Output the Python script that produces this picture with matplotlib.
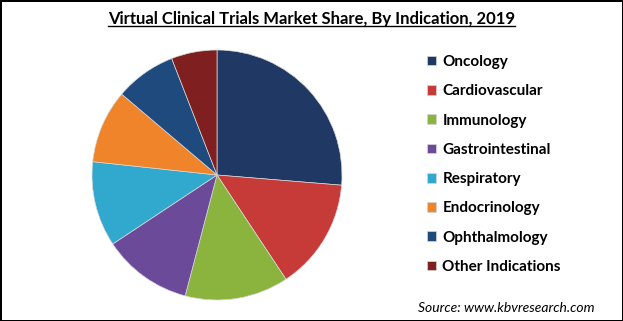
import matplotlib
matplotlib.use("Agg")
import matplotlib.pyplot as plt
from matplotlib.lines import Line2D

# Market share by indication (%)
indications = ["Oncology", "Cardiovascular", "Immunology", "Gastrointestinal",
               "Respiratory", "Endocrinology", "Ophthalmology", "Other Indications"]
shares = [26.3, 14.4, 13.4, 11.6, 11.0, 9.5, 7.9, 5.9]
colors = ["#1F3864", "#C63A37", "#8AB43E", "#6C4A9A",
          "#31A9CF", "#F0842A", "#1F4A7E", "#7F1F1F"]

plt.rcParams['font.family'] = ['Lato', 'DejaVu Sans']

W, H = 623, 321
fig = plt.figure(figsize=(W / 100, H / 100), dpi=100)
fig.patch.set_edgecolor("black")
fig.patch.set_linewidth(2)

# pie: center ~(217,175) px, radius ~125 px
cx, cy, r = 217, 175, 125
ax = fig.add_axes([(cx - r) / W, (H - cy - r) / H, 2 * r / W, 2 * r / H])
wedges, _ = ax.pie(shares, colors=colors, startangle=90, counterclock=False,
                   radius=1, wedgeprops=dict(edgecolor="#d8d8d8", linewidth=0.5))
ax.set_xlim(-1.0, 1.0)
ax.set_ylim(-1.0, 1.0)

fig.legend(wedges, indications, loc="upper left",
           bbox_to_anchor=(427 / W, 1 - 55 / H), frameon=False,
           prop=dict(family=['Lato', 'DejaVu Sans'], weight='bold', size=11),
           handlelength=0.6, handleheight=0.6, handletextpad=0.4,
           labelspacing=1.0, borderpad=0, borderaxespad=0)

title = fig.text(0.5, 1 - 19 / H, "Virtual Clinical Trials Market Share, By Indication, 2019",
                 ha="center", va="center", fontsize=12, fontweight="bold")
fig.text(595 / W, 1 - 308 / H, "Source: www.kbvresearch.com", ha="right", va="center",
         fontsize=10, style="italic")

# underline the title
fig.canvas.draw()
bb = title.get_window_extent().transformed(fig.transFigure.inverted())
fig.add_artist(Line2D([bb.x0, bb.x1], [bb.y0 + 0.003, bb.y0 + 0.003],
                      transform=fig.transFigure, color="black", linewidth=1))

fig.savefig("out.png", dpi=100)
